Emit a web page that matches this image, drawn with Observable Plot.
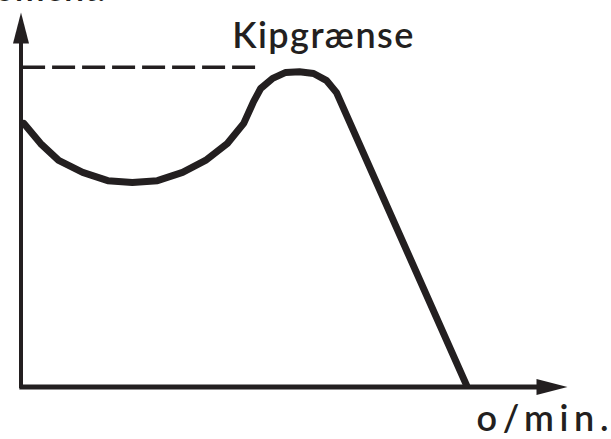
<!DOCTYPE html>
<html>
<head>
<meta charset="utf-8">
<script src="https://cdn.jsdelivr.net/npm/d3@7"></script>
<script src="https://cdn.jsdelivr.net/npm/@observablehq/plot@0.6"></script>
<style>
  html, body { margin: 0; padding: 0; background: #fff; }
  #chart { width: 611px; height: 439px; overflow: hidden; }
</style>
</head>
<body>
<div id="chart"></div>
<script>
// ---- data (relative units: speed % along x-axis, torque % along y-axis) ----
const speed  = [0.4, 3.5, 6.8, 11.2, 15.8, 20.3, 24.9, 29.5, 33.7, 37.7, 40.7, 42.5, 43.8, 46.0, 48.4, 50.9, 53.5, 55.9, 57.7, 81.5];
const torque = [70.4, 65.0, 60.5, 57.3, 55.1, 54.6, 55.1, 57.3, 60.5, 65.0, 70.4, 76.2, 79.7, 82.4, 84.0, 84.2, 83.7, 81.8, 78.6, 0.5];
const breakdownTorque = 85.4;   // Kipgrænse level
const limitLineEnd = 44.1;      // where the dashed line stops
const limitLabel = "Kipgrænse";
const xLabel = "o/min.";
const yLabel = "Moment.";

const ink = "#231f20";
const font = "Lato, 'Open Sans', sans-serif";

const curve = speed.map((s, i) => ({speed: s, torque: torque[i]}));

// narrow filled arrowhead, tip at origin, pointing up (rotate 90 => right)
const arrowHead = {
  draw(ctx) {
    ctx.moveTo(0, 0);
    ctx.lineTo(8, 31);
    ctx.lineTo(-8, 31);
    ctx.closePath();
  }
};

const chart = Plot.plot({
  width: 611,
  height: 439,
  marginLeft: 21,
  marginRight: 44,
  marginTop: 12,
  marginBottom: 52.5,
  x: {domain: [0, 100], axis: null},
  y: {domain: [0, 100], axis: null},
  style: {background: "#fff", fontFamily: font},
  marks: [
    // axes
    Plot.ruleX([0], {y1: -0.4, y2: 92, stroke: ink, strokeWidth: 4, dx: -0.5}),
    Plot.ruleY([0], {x1: -0.3, x2: 96, stroke: ink, strokeWidth: 5}),
    Plot.dot([{x: 0, y: 100}], {x: "x", y: "y", symbol: arrowHead, r: 1, fill: ink, stroke: null, dx: -0.5}),
    Plot.dot([{x: 100, y: 0}], {x: "x", y: "y", symbol: arrowHead, r: 1, fill: ink, stroke: null, rotate: 90}),
    // breakdown torque limit
    Plot.ruleY([breakdownTorque], {x1: 0.2, x2: limitLineEnd, stroke: ink, strokeWidth: 3.5, strokeDasharray: "23,7"}),
    // torque curve
    Plot.line(curve, {x: "speed", y: "torque", stroke: ink, strokeWidth: 7, strokeLinejoin: "miter"}),
    // labels
    Plot.text([limitLabel], {x: limitLineEnd, y: breakdownTorque, text: d => d, textAnchor: "start", lineAnchor: "bottom",
      dx: -30, dy: -19.5, fontSize: 36, fontWeight: 600, fill: ink}),
    Plot.text([xLabel], {x: 100, y: 0, text: d => d, textAnchor: "start", lineAnchor: "bottom",
      dx: -91, dy: 43.5, fontSize: 36, fontWeight: 600, fill: ink}),
    Plot.text([yLabel], {x: 0, y: 100, text: d => d, textAnchor: "end", lineAnchor: "bottom",
      dx: 84, dy: -12, fontSize: 36, fontWeight: 600, fill: ink})
  ]
});

// widen the labels' letter spacing to match the original lettering
const widths = {[limitLabel]: 181, [xLabel]: 132};
d3.select(chart).selectAll("text").each(function () {
  const w = widths[this.textContent];
  if (w) {
    this.setAttribute("textLength", w);
    this.setAttribute("lengthAdjust", "spacing");
  }
});

document.getElementById("chart").append(chart);
</script>
</body>
</html>
